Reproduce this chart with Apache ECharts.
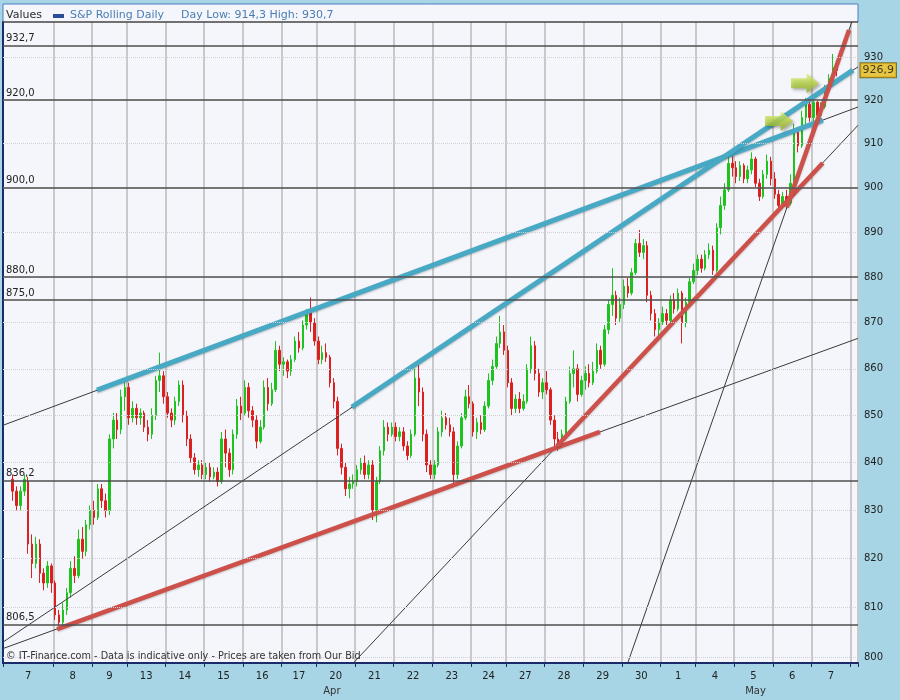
<!DOCTYPE html>
<html>
<head>
<meta charset="utf-8">
<script src="https://cdn.jsdelivr.net/npm/echarts@6/dist/echarts.min.js"></script>
<style>
html,body{margin:0;padding:0;background:#a7d5e5;}
#chart{width:900px;height:700px;}
</style>
</head>
<body>
<div id="chart"></div>
<script>
// ---------------- DATA ----------------
const dayLabels = ['7','8','9','13','14','15','16','17','20','21','22','23','24','27','28','29','30','1','4','5','6','7'];
const dayMonths = ['Apr','Apr','Apr','Apr','Apr','Apr','Apr','Apr','Apr','Apr','Apr','Apr','Apr','Apr','Apr','Apr','Apr','May','May','May','May','May'];
const dayBars   = [13,10,9,10,10,10,10,9,10,10,10,10,9,10,10,10,10,9,10,10,10,10];
const trailingSlots = 2;

// intraday candles [open, close, low, high]; null = no bar
const candles = [
  // 7
  null, null,
  [836.5,834,832,837.5],[834,831,830,835],[831,834,830,835],[834,836.5,833,837.5],[836,823,821,837],
  [823,819,816,825],[819,823,818,824.5],[823,817,815,824],[817,815,813.5,818],[815,818.5,814,819.5],[818.5,815,813,819],
  // 8
  [815,808.5,807.5,815.5],[808.5,807,806.3,809.5],[807,809.5,806.5,811],[809.5,813,808.5,814],[813,818,812,819.5],
  [818,816.5,815,820.5],[816.5,824,816,826],[824,821.5,820,826.5],[821.5,827,820.5,828],[827,830,826,831],
  // 9
  [830,828.5,827,832],[828.5,834.5,828,835.5],[834.5,832,830.5,835.5],[832,830,828.5,833.5],[830,845,829,846],
  [845,849,843,850.5],[849,847,845,850.5],[847,854,846,855.5],[854,856,851,857.5],
  // 13
  [856,849.5,848,857],[849.5,851.5,848.5,853],[851.5,849.5,848,852.5],[849.5,850.5,848,851.5],[850.5,847.5,846.5,851],
  [847.5,846,844.5,849],[846,850,845,851.5],[850,857.5,849,858.5],[857.5,858.5,855,863.5],[858.5,854,852.5,859.5],
  // 14
  [854,850.5,849.5,855],[850.5,849,847.5,851.5],[849,853,848,854],[853,856.5,852,857.5],[856.5,850,848.5,857.5],
  [850,845,843.5,851],[845,841,840,846],[841,838.5,837.5,842],[838.5,839.5,837,840.5],[839.5,837.5,836.5,840.5],
  // 15
  [837.5,839,836.5,840],[839,837,836,840],[837,838,836.5,839],[838,836,835,839],[836,845,835.5,846.5],
  [845,842,839,847],[842,838.5,837,843],[838.5,846,837.5,847],[846,852,845,853.5],[852,850.5,849,854],
  // 16
  [850.5,856,850,857.5],[856,851,849.5,857],[851,849,847.5,852],[849,844.5,843,850],[844.5,847.5,844,849],
  [847.5,856,847,857.5],[856,852.5,851,858],[852.5,855.5,852,857],[855.5,864,855,866],[864,861,859.5,865],
  // 17
  [861,861.5,858.5,862.5],[861.5,859.5,858,862],[859.5,862,858.5,863],[862,866,861.5,867],[866,864.5,863.5,868],
  [864.5,869.5,864,870.5],[869.5,872.5,868.5,873],[872.5,870,868,875.5],[870,866,865,871],
  // 20
  [866,862,861,867],[862,863.5,861,865],[863.5,862.5,861.5,865.5],[862.5,857,856,863],[857,853,851.5,858],
  [853,843,841.5,854],[843,839,837.5,844],[839,834.5,833,840],[834.5,835.5,832.5,837],[835.5,836,834.5,837.5],
  // 21
  [836,838.5,835,839.5],[838.5,840,837.5,841],[840,837.5,836.5,841.5],[837.5,839.5,836.5,840.5],[839.5,830,828,840.5],
  [830,836,827.5,837],[836,842.5,835.5,843.5],[842.5,847.5,841.5,849],[847.5,846,844.5,848.5],[846,847.5,845.5,848.5],
  // 22
  [847.5,845.5,844.5,848.5],[845.5,846.5,844.5,847.5],[846.5,843.5,842.5,847.5],[843.5,841.5,840.5,844.5],[841.5,846,841,847],
  [846,858,845.5,860],[858,855,852,861],[855,846,844.5,856],[846,839.5,838,847],[839.5,837.5,836.5,840.5],
  // 23
  [837.5,839.5,836.5,840.5],[839.5,846.5,839,847.5],[846.5,849.5,845.5,851],[849.5,848,847,850.5],[848,846.5,845.5,849.5],
  [846.5,837.5,835.5,847.5],[837.5,843.5,836.5,844.5],[843.5,849.5,843,850.5],[849.5,854,849,855.5],[854,852.5,851.5,856.5],
  // 24
  [852.5,846.5,845.5,853],[846.5,848.5,845,849.5],[848.5,847,846,850],[847,852,846.5,853],[852,857.5,851.5,859],
  [857.5,860.5,856.5,862],[860.5,865.5,860,867],[865.5,868,864.5,871.5],[868,864,863,869.5],
  // 27
  [864,857,856,865],[857,851.5,850,858],[851.5,853.5,850.5,854.5],[853.5,851.5,850.5,855],[851.5,853,851,854.5],
  [853,860,852.5,861],[860,865,859,867],[865,859,857.5,866],[859,855,854,860],[855,857,853.5,858],
  // 28
  [857,855.5,854.5,859.5],[855.5,849,848,856],[849,845,843.5,850],[845,844,842.5,846.5],[844,846,843,847],
  [846,853,845.5,854],[853,859,852.5,860.5],[859,860,856,864],[860,854.5,853,861],[854.5,857.5,854,858.5],
  // 29
  [857.5,859,855.5,860.5],[859,857,856,861],[857,859.5,856.5,861.5],[859.5,864,859,865.5],[864,861,860,865],
  [861,868.5,860.5,869.5],[868.5,874,867.5,875],[874,876,871.5,882],[876,871,869.5,877],[871,874,870,875.5],
  // 30
  [874,878,873,879.5],[878,876.5,875.5,880],[876.5,881,876,882],[881,887.5,880.5,888.5],[887.5,885.5,884.5,890.5],
  [885.5,887,884,888.5],[887,876,874.5,888],[876,872,870.5,877],[872,868.5,867,873],[868.5,870,867,871],
  // 1
  [870,872,869.5,873.5],[872,870.5,869.5,873],[870.5,875,870,876],[875,873,872,876.5],[873,876.5,872.5,877.5],
  [876.5,870,865.5,877],[870,874.5,869,875.5],[874.5,879,874,880],[879,881.5,878.5,883],
  // 4
  [881.5,884,880.5,885],[884,882,881,885],[882,885,881.5,886],[885,886,884,887.5],[886,881.5,880.5,887],
  [881.5,891,881,892],[891,896,889.5,898],[896,899.5,895,901],[899.5,905.5,899,907],[905.5,904.5,902.5,907.5],
  // 5
  [904.5,902.5,901,906],[902.5,905,901.5,906],[905,902,901,905.5],[902,904,901,905],[904,906.5,903,908],
  [906.5,901,900,907],[901,898,897,902],[898,903,897.5,904],[903,906,902,907.5],[906,902,900.5,907],
  // 6
  [902,898.5,897.5,903.5],[898.5,896,895,899.5],[896,898,895.3,899],[898,896.5,895.5,899.5],[896.5,901,896,903],
  [901,912.5,900.5,914.5],[912.5,909.5,908,913.5],[909.5,916,909,917.5],[916,919,914.5,920.5],[919,916,915,920.5],
  // 7
  [916,919.5,914.3,920.5],[919.5,916.5,915,920],[916.5,918.5,916,919.5],[918.5,922.5,918,923.5],[922.5,925,921.5,926],
  [925,927.5,924.5,930.7],[927.5,926.9,925.5,928.5],null,null,null,
  // after last day
  null, null
];

const yLabelValues = [800,810,820,830,840,850,860,870,880,890,900,910,920,930];
const gridValues   = [800,810,820,830,840,850,860,870,880,890,900,910,920,930];
const levelValues  = [932.7, 920.0, 900.0, 880.0, 875.0, 836.2, 806.5];

const dayLow = 914.3, dayHigh = 930.7, lastPrice = 926.9;
const seriesName = 'S&P Rolling Daily';

// trend lines: [barIndex, price] endpoints
const thinLines = [
  [[0, 847.9], [221, 918.4]],
  [[0, 803.0], [221, 927.7]],
  [[0, 801.7], [221, 866.6]],
  [[87.9, 796.6], [221, 914.2]],
  [[160.8, 797.3], [221, 942.4]]
];
const blueLines = [
  [[24.3, 855.4], [211.9, 915.4]],
  [[90.2, 851.8], [219.7, 926.95]]
];
const redLines = [
  [[14.0, 805.6], [154.3, 846.5]],
  [[143.2, 843.5], [211.9, 905.6]],
  [[202.6, 895.6], [218.7, 936.3]]
];
const arrowPoints = [[200.6, 915.2], [207.3, 923.9]];

// ---------------- BUILD ----------------
const fmt = v => v.toFixed(1).replace('.', ',');
const FONT = 'DejaVu Sans';
const dayStarts = [];
const dayCenters = [];
let acc = 0;
dayBars.forEach(n => { dayStarts.push(acc); dayCenters.push(acc + n / 2); acc += n; });
const daysEnd = acc;
const totalSlots = acc + trailingSlots;
const boundarySet = new Set(dayStarts.concat([daysEnd]));
const slots = [];
dayBars.forEach((n, i) => { for (let k = 0; k < n; k++) slots.push(i + ':' + k); });
for (let k = 0; k < trailingSlots; k++) slots.push('x:' + k);
const candleData = candles.map(c => c === null ? ['-', '-', '-', '-'] : c);

const monthNames = [];
const monthSpans = [];
dayMonths.forEach((m, i) => {
  const idx = monthNames.indexOf(m);
  const s = dayStarts[i], e = dayStarts[i] + dayBars[i];
  if (idx < 0) { monthNames.push(m); monthSpans.push([s, e]); }
  else { monthSpans[idx][1] = e; }
});
const monthCenterVals = monthSpans.map(r => (r[0] + r[1]) / 2);

const NAVY = '#1b2a6b';

const series = [];
// grid & level lines
series.push({
  type: 'line', xAxisIndex: 1, yAxisIndex: 0, data: [[0, 850]], symbol: 'none',
  lineStyle: { opacity: 0 }, silent: true, z: 1,
  markLine: {
    silent: true, symbol: ['none', 'none'], animation: false,
    data: gridValues.map(v => ({ yAxis: v, lineStyle: { type: 'dotted', color: '#cfcfd4', width: 1 }, label: { show: false } }))
      .concat(levelValues.map(v => ({
        yAxis: v,
        lineStyle: { type: 'solid', color: '#4e4e4e', width: 1.5 },
        label: { show: true, position: 'insideStartTop', formatter: fmt(v), distance: [3, 2],
                 color: '#222', fontSize: 10, fontFamily: FONT }
      })))
  }
});
series.push({
  name: seriesName, type: 'candlestick', xAxisIndex: 0, yAxisIndex: 0, data: candleData,
  barWidth: 2, z: 2,
  itemStyle: { color: '#1ec31e', color0: '#dc1f1f', borderColor: '#1ec31e', borderColor0: '#dc1f1f', borderWidth: 1 }
});
thinLines.forEach(l => series.push({
  type: 'line', xAxisIndex: 1, yAxisIndex: 0, data: l, symbol: 'none', clip: true, silent: true, z: 3,
  lineStyle: { color: '#3a3a3a', width: 1 }
}));
blueLines.forEach(l => series.push({
  type: 'line', xAxisIndex: 1, yAxisIndex: 0, data: l, symbol: 'none', clip: true, silent: true, z: 4,
  lineStyle: { color: '#48a9c5', width: 5, cap: 'butt', shadowColor: 'rgba(0,0,0,0.25)', shadowBlur: 2, shadowOffsetY: 1 }
}));
redLines.forEach(l => series.push({
  type: 'line', xAxisIndex: 1, yAxisIndex: 0, data: l, symbol: 'none', clip: true, silent: true, z: 4,
  lineStyle: { color: '#cd514a', width: 4.5, cap: 'butt', shadowColor: 'rgba(0,0,0,0.2)', shadowBlur: 2, shadowOffsetY: 1 }
}));
series.push({
  type: 'scatter', xAxisIndex: 1, yAxisIndex: 0, data: arrowPoints, silent: true, z: 6,
  symbol: 'path://M0,5L15,5L15,0L27,10L15,20L15,15L0,15Z', symbolSize: [28, 20],
  itemStyle: {
    color: { type: 'linear', x: 0, y: 0, x2: 0, y2: 1, colorStops: [
      { offset: 0, color: '#e4f280' }, { offset: 0.5, color: '#b9d646' }, { offset: 1, color: '#86a61e' }] },
    shadowColor: 'rgba(0,0,0,0.35)', shadowBlur: 3, shadowOffsetX: 2, shadowOffsetY: 2
  }
});
series.push({
  type: 'scatter', xAxisIndex: 1, yAxisIndex: 0, data: [[totalSlots, lastPrice]], silent: true, clip: false, z: 10,
  symbolSize: 1, itemStyle: { color: 'rgba(0,0,0,0)' },
  label: { show: true, position: 'right', distance: 2, formatter: fmt(lastPrice),
           backgroundColor: '#f6c21c', borderColor: '#6e5800', borderWidth: 1, padding: [2, 2, 1, 2],
           color: '#111', fontSize: 11, fontFamily: FONT }
});

const chart = echarts.init(document.getElementById('chart'));
chart.setOption({
  animation: false,
  backgroundColor: '#a7d5e5',
  textStyle: { fontFamily: FONT },
  grid: { left: 3, right: 42, top: 22, bottom: 37, containLabel: false },
  xAxis: [
    {
      type: 'category', data: slots, boundaryGap: true, position: 'bottom',
      axisLine: { show: true, lineStyle: { color: NAVY, width: 2 } },
      axisTick: { show: true, interval: (i) => boundarySet.has(i), length: 4, lineStyle: { color: NAVY, width: 1 } },
      axisLabel: { show: false },
      splitLine: { show: true, interval: (i) => boundarySet.has(i), lineStyle: { color: '#c9c9c9', width: 2 } }
    },
    {
      type: 'value', min: 0, max: totalSlots, position: 'bottom',
      axisLine: { show: false }, axisTick: { show: false }, splitLine: { show: false },
      axisLabel: {
        show: true, customValues: dayCenters, margin: 8, fontSize: 10, color: '#222', fontFamily: FONT,
        formatter: (v) => { const i = dayCenters.findIndex(c => Math.abs(c - v) < 1e-6); return i < 0 ? '' : dayLabels[i]; }
      }
    },
    {
      type: 'value', min: 0, max: totalSlots, position: 'bottom',
      axisLine: { show: false }, axisTick: { show: false }, splitLine: { show: false },
      axisLabel: {
        show: true, customValues: monthCenterVals, margin: 23, fontSize: 10, color: '#333', fontFamily: FONT,
        formatter: (v) => { const i = monthCenterVals.findIndex(c => Math.abs(c - v) < 1e-6); return i < 0 ? '' : monthNames[i]; }
      }
    }
  ],
  yAxis: [{
    type: 'log', logBase: 10, min: 798.8, max: 938.2, position: 'right',
    axisLine: { show: true, lineStyle: { color: NAVY, width: 2 } },
    axisTick: { show: false },
    axisLabel: { show: true, customValues: yLabelValues, margin: 6, fontSize: 10, color: '#222', fontFamily: FONT,
                 formatter: (v) => String(Math.round(v)) },
    splitLine: { show: false },
    minorTick: { show: false },
    minorSplitLine: { show: false }
  }],
  graphic: [
    { type: 'rect', z: -10, silent: true, shape: { x: 3, y: 4, width: 855, height: 659 },
      style: { fill: '#f5f6fb', stroke: '#4a7fc4', lineWidth: 1 } },
    { type: 'line', z: 50, silent: true, shape: { x1: 3, y1: 22, x2: 858, y2: 22 }, style: { stroke: '#444', lineWidth: 1.5 } },
    { type: 'text', z: 50, silent: true, x: 6, y: 15, style: { text: 'Values', fill: '#2b2b2b', font: '11px "DejaVu Sans"', verticalAlign: 'middle' } },
    { type: 'rect', z: 50, silent: true, shape: { x: 53, y: 14, width: 11, height: 4 }, style: { fill: '#2a4d9a' } },
    { type: 'text', z: 50, silent: true, x: 70, y: 15, style: { text: seriesName, fill: '#4a7db3', font: '11px "DejaVu Sans"', verticalAlign: 'middle' } },
    { type: 'text', z: 50, silent: true, x: 181, y: 15, style: { text: 'Day Low: ' + fmt(dayLow) + ' High: ' + fmt(dayHigh), fill: '#4a7db3', font: '11px "DejaVu Sans"', verticalAlign: 'middle' } },
    { type: 'text', z: 50, silent: true, x: 6, y: 656, style: { text: '\u00A9 IT-Finance.com - Data is indicative only - Prices are taken from Our Bid', fill: '#333', font: '9.7px "DejaVu Sans"', verticalAlign: 'middle' } }
  ],
  series: series
});
</script>
</body>
</html>
